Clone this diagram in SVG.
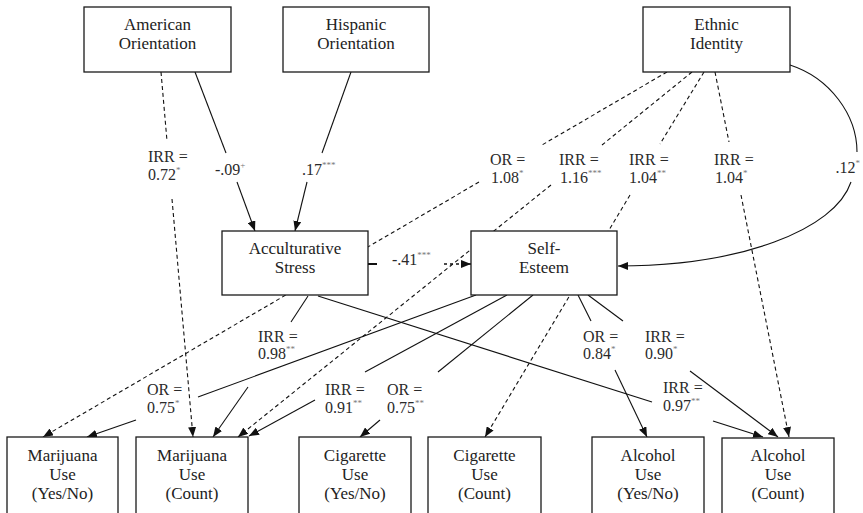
<svg xmlns="http://www.w3.org/2000/svg" width="863" height="513" viewBox="0 0 863 513" font-family="Liberation Serif, Times New Roman, serif">
<style>
.box{fill:#fff;stroke:#1a1a1a;stroke-width:1.3}
.nt{font-size:17px;fill:#222;text-anchor:middle}
.lb{font-size:16px;fill:#2a2a2a}
.sp{font-size:9px;fill:#777}
.s{fill:none;stroke:#111;stroke-width:1.1}
.d{fill:none;stroke:#111;stroke-width:1.1;stroke-dasharray:4 3}
</style>
<defs>
<marker id="ah" viewBox="0 0 10 8" refX="10" refY="4" markerWidth="10" markerHeight="8" markerUnits="userSpaceOnUse" orient="auto">
<path d="M0,0 L10,4 L0,8 z" fill="#111"/>
</marker>
</defs>
<g id="connectors">
<path class="s" d="M195,72 L226,153"/>
<path class="s" d="M237,182 L255,231" marker-end="url(#ah)"/>
<path class="s" d="M351,72 L322,153"/>
<path class="s" d="M307,182 L295,231" marker-end="url(#ah)"/>
<path class="d" d="M161,72 L167,141"/>
<path class="d" d="M172,199 L193,437" marker-end="url(#ah)"/>
<path class="d" d="M667,72 L542,145"/>
<path class="d" d="M479,182 L43,437" marker-end="url(#ah)"/>
<path class="d" d="M692,72 L602,145"/>
<path class="d" d="M551,185 L238,437" marker-end="url(#ah)"/>
<path class="d" d="M704,72 L660,144"/>
<path class="d" d="M630,195 L485,437" marker-end="url(#ah)"/>
<path class="d" d="M715,72 L729,142"/>
<path class="d" d="M741,195 L789,437" marker-end="url(#ah)"/>
<path class="s" d="M790,65 C830,78 857,115 857,152"/>
<path class="s" d="M851,182 C835,230 740,266 618,266" marker-end="url(#ah)"/>
<path fill="none" stroke="#111" stroke-width="2" d="M368,264 L377,264"/>
<path fill="none" stroke="#111" stroke-width="1.6" stroke-dasharray="3 3" d="M444,264 L471,264" marker-end="url(#ah)"/>
<path class="s" d="M308,296 L291,322"/>
<path class="s" d="M248,387 L213,437" marker-end="url(#ah)"/>
<path class="s" d="M318,296 L652,402"/>
<path class="s" d="M713,421 L763,437" marker-end="url(#ah)"/>
<path class="s" d="M476,295 L198,397"/>
<path class="s" d="M136,420 L87,437" marker-end="url(#ah)"/>
<path class="s" d="M507,295 L365,372"/>
<path class="s" d="M315,400 L249,436" marker-end="url(#ah)"/>
<path class="s" d="M533,295 L438,372"/>
<path class="s" d="M380,420 L360,437" marker-end="url(#ah)"/>
<path class="s" d="M578,295 L591,321"/>
<path class="s" d="M615,370 L647,437" marker-end="url(#ah)"/>
<path class="s" d="M588,295 L623,321"/>
<path class="s" d="M690,371 L778,437" marker-end="url(#ah)"/>
</g>
<g id="labels">
<text class="lb" x="148" y="162">IRR =</text>
<text class="lb" x="148" y="180">0.72<tspan class="sp" dy="-7">*</tspan></text>
<text class="lb" x="215" y="175">-.09<tspan class="sp" dy="-7">+</tspan></text>
<text class="lb" x="302" y="175">.17<tspan class="sp" dy="-7">***</tspan></text>
<text class="lb" x="490" y="165">OR =</text>
<text class="lb" x="491" y="183">1.08<tspan class="sp" dy="-7">*</tspan></text>
<text class="lb" x="559" y="165">IRR =</text>
<text class="lb" x="560" y="183">1.16<tspan class="sp" dy="-7">***</tspan></text>
<text class="lb" x="629" y="165">IRR =</text>
<text class="lb" x="629" y="183">1.04<tspan class="sp" dy="-7">**</tspan></text>
<text class="lb" x="714" y="165">IRR =</text>
<text class="lb" x="715" y="183">1.04<tspan class="sp" dy="-7">*</tspan></text>
<text class="lb" x="860" y="173" text-anchor="end">.12<tspan class="sp" dy="-7">*</tspan></text>
<text class="lb" x="392" y="265">-.41<tspan class="sp" dy="-7">***</tspan></text>
<text class="lb" x="258" y="342">IRR =</text>
<text class="lb" x="258" y="359">0.98<tspan class="sp" dy="-7">**</tspan></text>
<text class="lb" x="583" y="342">OR =</text>
<text class="lb" x="583" y="359">0.84<tspan class="sp" dy="-7">*</tspan></text>
<text class="lb" x="645" y="342">IRR =</text>
<text class="lb" x="645" y="359">0.90<tspan class="sp" dy="-7">*</tspan></text>
<text class="lb" x="147" y="395">OR =</text>
<text class="lb" x="147" y="413">0.75<tspan class="sp" dy="-7">*</tspan></text>
<text class="lb" x="325" y="395">IRR =</text>
<text class="lb" x="325" y="413">0.91<tspan class="sp" dy="-7">**</tspan></text>
<text class="lb" x="387" y="395">OR =</text>
<text class="lb" x="387" y="413">0.75<tspan class="sp" dy="-7">**</tspan></text>
<text class="lb" x="663" y="393">IRR =</text>
<text class="lb" x="663" y="411">0.97<tspan class="sp" dy="-7">**</tspan></text>
</g>
<g id="american-orientation">
<rect class="box" x="84" y="7" width="147" height="65"/>
<text class="nt" x="157.5" y="30">American</text>
<text class="nt" x="157.5" y="49">Orientation</text>
</g>
<g id="hispanic-orientation">
<rect class="box" x="283" y="7" width="146" height="65"/>
<text class="nt" x="356" y="30">Hispanic</text>
<text class="nt" x="356" y="49">Orientation</text>
</g>
<g id="ethnic-identity">
<rect class="box" x="643" y="7" width="147" height="65"/>
<text class="nt" x="716.5" y="30">Ethnic</text>
<text class="nt" x="716.5" y="49">Identity</text>
</g>
<g id="acculturative-stress">
<rect class="box" x="222" y="231" width="146" height="64"/>
<text class="nt" x="295" y="254">Acculturative</text>
<text class="nt" x="295" y="273">Stress</text>
</g>
<g id="self-esteem">
<rect class="box" x="471" y="231" width="146" height="64"/>
<text class="nt" x="544" y="254">Self-</text>
<text class="nt" x="544" y="273">Esteem</text>
</g>
<g id="marijuana-yesno">
<rect class="box" x="7" y="437" width="111" height="90"/>
<text class="nt" x="62.5" y="461">Marijuana</text>
<text class="nt" x="62.5" y="480">Use</text>
<text class="nt" x="62.5" y="499">(Yes/No)</text>
</g>
<g id="marijuana-count">
<rect class="box" x="136" y="437" width="112" height="90"/>
<text class="nt" x="192" y="461">Marijuana</text>
<text class="nt" x="192" y="480">Use</text>
<text class="nt" x="192" y="499">(Count)</text>
</g>
<g id="cigarette-yesno">
<rect class="box" x="299" y="437" width="112" height="90"/>
<text class="nt" x="355" y="461">Cigarette</text>
<text class="nt" x="355" y="480">Use</text>
<text class="nt" x="355" y="499">(Yes/No)</text>
</g>
<g id="cigarette-count">
<rect class="box" x="428" y="437" width="113" height="90"/>
<text class="nt" x="484.5" y="461">Cigarette</text>
<text class="nt" x="484.5" y="480">Use</text>
<text class="nt" x="484.5" y="499">(Count)</text>
</g>
<g id="alcohol-yesno">
<rect class="box" x="592" y="437" width="112" height="90"/>
<text class="nt" x="648" y="461">Alcohol</text>
<text class="nt" x="648" y="480">Use</text>
<text class="nt" x="648" y="499">(Yes/No)</text>
</g>
<g id="alcohol-count">
<rect class="box" x="722" y="438" width="112" height="90"/>
<text class="nt" x="778" y="461">Alcohol</text>
<text class="nt" x="778" y="480">Use</text>
<text class="nt" x="778" y="499">(Count)</text>
</g>
</svg>
